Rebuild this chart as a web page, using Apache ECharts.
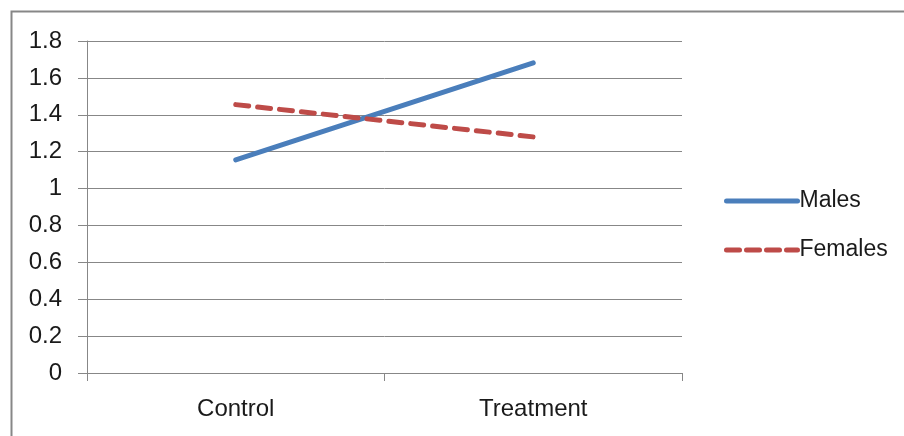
<!DOCTYPE html>
<html>
<head>
<meta charset="utf-8">
<script src="https://cdn.jsdelivr.net/npm/echarts@6/dist/echarts.min.js"></script>
<style>html,body{margin:0;padding:0;background:#fff}#c{width:904px;height:436px}</style>
</head>
<body>
<div id="c"></div>
<script>
const categories = ['Control', 'Treatment'];
const males = [1.155, 1.682];
const females = [1.455, 1.28];
const seriesNames = ['Males', 'Females'];

const chart = echarts.init(document.getElementById('c'), null, {renderer: 'canvas'});
const font = 'Liberation Sans';
const gray = '#878787';
const blue = '#4A7EBB';
const red = '#BE4B48';
chart.setOption({
  animation: false,
  backgroundColor: '#fff',
  graphic: [{
    type: 'rect', shape: {x: 11.5, y: 11.5, width: 920, height: 450},
    style: {fill: 'none', stroke: gray, lineWidth: 2}, silent: true
  }],
  grid: {left: 87, right: 222, top: 41, bottom: 63},
  legend: {
    orient: 'vertical', left: 719, top: 183,
    itemWidth: 71, itemHeight: 14, itemGap: 23,
    data: [
      {name: seriesNames[0], itemStyle: {opacity: 0}, lineStyle: {width: 5, color: blue, cap: 'round'}},
      {name: seriesNames[1], itemStyle: {opacity: 0}, lineStyle: {width: 5, color: red, type: [13, 7], cap: 'round'}}
    ],
    textStyle: {fontFamily: font, fontSize: 23, color: '#1a1a1a', lineHeight: 26, padding: [0, 0, 0, -3]}
  },
  xAxis: {
    type: 'category', data: categories, boundaryGap: true,
    axisLine: {lineStyle: {color: gray, width: 1}},
    axisTick: {show: true, length: 8, lineStyle: {color: gray}},
    axisLabel: {fontFamily: font, fontSize: 24, color: '#1a1a1a', margin: 24}
  },
  yAxis: {
    type: 'value', min: 0, max: 1.8, interval: 0.2,
    axisLine: {show: true, lineStyle: {color: gray, width: 1}},
    axisTick: {show: true, length: 9, lineStyle: {color: gray}},
    splitLine: {lineStyle: {color: gray, width: 1}},
    axisLabel: {fontFamily: font, fontSize: 24, color: '#1a1a1a', margin: 25, padding: [4, 0, 0, 0]}
  },
  series: [
    {name: seriesNames[0], type: 'line', data: males, symbol: 'none',
     itemStyle: {color: blue},
     lineStyle: {color: blue, width: 5, cap: 'round'}},
    {name: seriesNames[1], type: 'line', data: females, symbol: 'none',
     itemStyle: {color: red},
     lineStyle: {color: red, width: 5, type: [13, 9], cap: 'round'}}
  ]
});
</script>
</body>
</html>
